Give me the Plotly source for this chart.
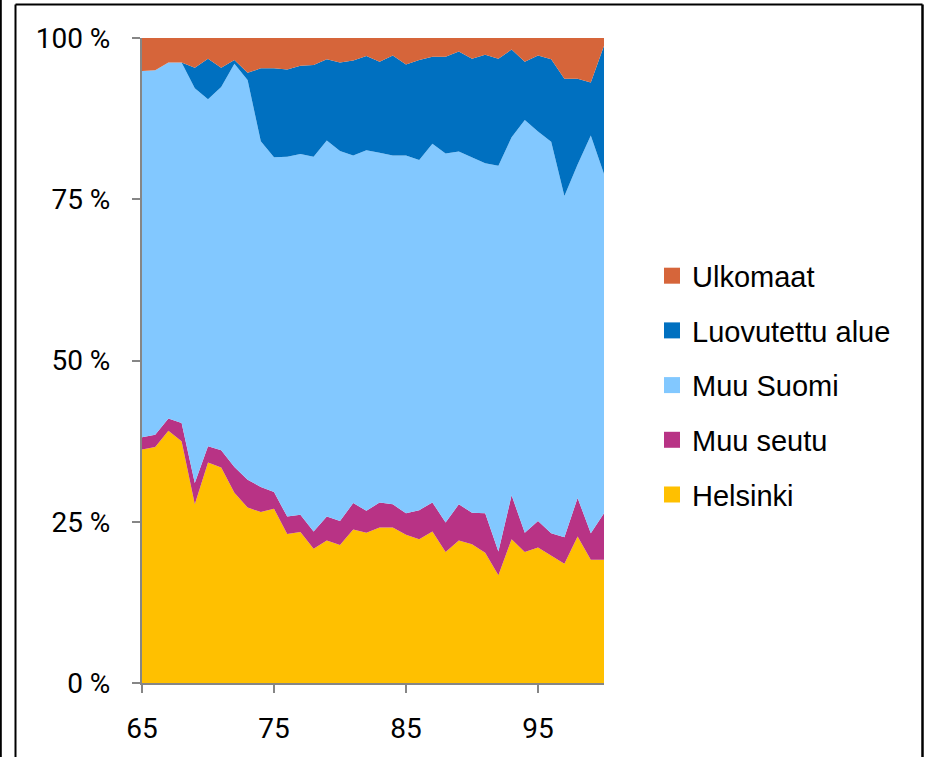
import plotly.graph_objects as go

years = [65, 66, 67, 68, 69, 70, 71, 72, 73, 74, 75, 76, 77, 78, 79, 80, 81, 82,
         83, 84, 85, 86, 87, 88, 89, 90, 91, 92, 93, 94, 95, 96, 97, 98, 99, 100]

helsinki = [36.2, 36.6, 39.1, 37.5, 27.7, 34.2, 33.4, 29.5, 27.2, 26.5, 27.0, 23.1,
            23.4, 20.8, 22.1, 21.4, 23.8, 23.3, 24.1, 24.1, 23.0, 22.3, 23.5, 20.3,
            22.1, 21.5, 20.2, 16.7, 22.3, 20.3, 21.0, 19.8, 18.5, 22.7, 19.1, 19.1]
muu_seutu = [1.9, 1.9, 1.9, 2.8, 3.3, 2.5, 2.7, 4.0, 4.3, 3.9, 2.6, 2.7,
             2.7, 2.7, 3.7, 3.7, 4.1, 3.4, 3.9, 3.6, 3.3, 4.5, 4.5, 4.6,
             5.6, 4.9, 6.1, 3.7, 6.8, 3.0, 4.1, 3.4, 4.1, 6.0, 4.1, 7.2]
muu_suomi = [56.8, 56.5, 55.2, 55.9, 61.2, 53.8, 56.3, 62.5, 62.0, 53.6, 51.9, 55.8,
             55.9, 58.1, 58.3, 57.4, 53.9, 55.9, 54.2, 54.1, 55.5, 54.3, 55.6, 57.2,
             54.7, 55.1, 54.3, 59.8, 55.5, 64.0, 60.4, 60.7, 52.9, 51.7, 61.7, 52.6]
luovutettu = [0.0, 0.0, 0.0, 0.0, 3.2, 6.3, 3.0, 0.6, 1.1, 11.3, 13.8, 13.5,
              13.7, 14.2, 12.6, 13.7, 14.7, 14.6, 14.1, 15.5, 14.1, 15.5, 13.5, 15.0,
              15.5, 15.3, 16.8, 16.6, 13.6, 9.0, 11.8, 12.8, 18.2, 13.3, 8.2, 19.9]
ulkomaat = [5.1, 5.0, 3.8, 3.8, 4.6, 3.2, 4.6, 3.4, 5.4, 4.7, 4.7, 4.9,
            4.3, 4.2, 3.3, 3.8, 3.5, 2.8, 3.7, 2.7, 4.1, 3.4, 2.9, 2.9,
            2.1, 3.2, 2.6, 3.2, 1.8, 3.7, 2.7, 3.3, 6.3, 6.3, 6.9, 1.2]

series_names = ["Helsinki", "Muu seutu", "Muu Suomi", "Luovutettu alue", "Ulkomaat"]
series_values = [helsinki, muu_seutu, muu_suomi, luovutettu, ulkomaat]
series_colors = ["#FFC000", "#B83385", "#82C8FF", "#0070C0", "#D6653A"]

y_tick_vals = [0, 25, 50, 75, 100]
y_tick_text = ["0 %", "25 %", "50 %", "75 %", "100 %"]
x_tick_vals = [65, 75, 85, 95]

fig = go.Figure()
for name, vals, col in zip(series_names, series_values, series_colors):
    fig.add_trace(go.Scatter(
        x=years, y=vals, name=name, mode="lines", stackgroup="one",
        line=dict(width=0, color=col), fillcolor=col, showlegend=False,
        hoverinfo="x+y+name"))

# legend entries (square swatches), top to bottom
for name, col in reversed(list(zip(series_names, series_colors))):
    fig.add_trace(go.Scatter(
        x=[None], y=[None], name=name, mode="markers", legendgroup=name,
        marker=dict(symbol="square", size=17, color=col)))

# plot area: x 142..604, y 38..685 in a 928x757 page
L, R, T, B = 142, 604, 38, 685
W, H = R - L, B - T

def px(x):
    return (x - L) / W

def py(y):
    return (B - y) / H

shapes = [
    dict(type="line", xref="paper", yref="paper", x0=px(0.8), x1=px(0.8), y0=py(-5), y1=py(800),
         line=dict(color="black", width=2)),
    dict(type="line", xref="paper", yref="paper", x0=px(15.5), x1=px(15.5), y0=py(4.5), y1=py(800),
         line=dict(color="black", width=2)),
    dict(type="line", xref="paper", yref="paper", x0=px(15.5), x1=px(922.5), y0=py(4.5), y1=py(4.5),
         line=dict(color="black", width=2)),
    dict(type="line", xref="paper", yref="paper", x0=px(922.5), x1=px(922.5), y0=py(4.5), y1=py(800),
         line=dict(color="black", width=2.5)),
]

tick_font = dict(family="Roboto, Liberation Sans, Arial, sans-serif", size=28, color="#000000")

fig.update_layout(
    width=928, height=757,
    margin=dict(l=L, r=928 - R, t=T, b=757 - B, pad=0),
    paper_bgcolor="white", plot_bgcolor="white",
    showlegend=True,
    legend=dict(x=px(652), y=py(251), xanchor="left", yanchor="top",
                font=dict(family="Liberation Sans, Arial, sans-serif", size=29, color="#000000"),
                tracegroupgap=14, traceorder="grouped", bgcolor="rgba(0,0,0,0)",
                itemclick=False),
    shapes=shapes,
    xaxis=dict(range=[65, 100], tickvals=x_tick_vals, ticks="outside", ticklen=8, tickwidth=2,
               tickcolor="#868686", showline=True, linecolor="#868686", linewidth=2,
               showgrid=False, zeroline=False, tickfont=tick_font, ticklabelstandoff=11),
    yaxis=dict(range=[0, 100], tickvals=y_tick_vals, ticktext=y_tick_text, ticks="outside",
               ticklen=8, tickwidth=2, tickcolor="#868686", showline=True, linecolor="#868686",
               linewidth=2, showgrid=False, zeroline=False, tickfont=tick_font,
               ticklabelstandoff=16),
)

fig.write_html("out.html", config={"displayModeBar": False},
               post_script="document.body.style.margin='0px';document.body.style.overflow='hidden';")
